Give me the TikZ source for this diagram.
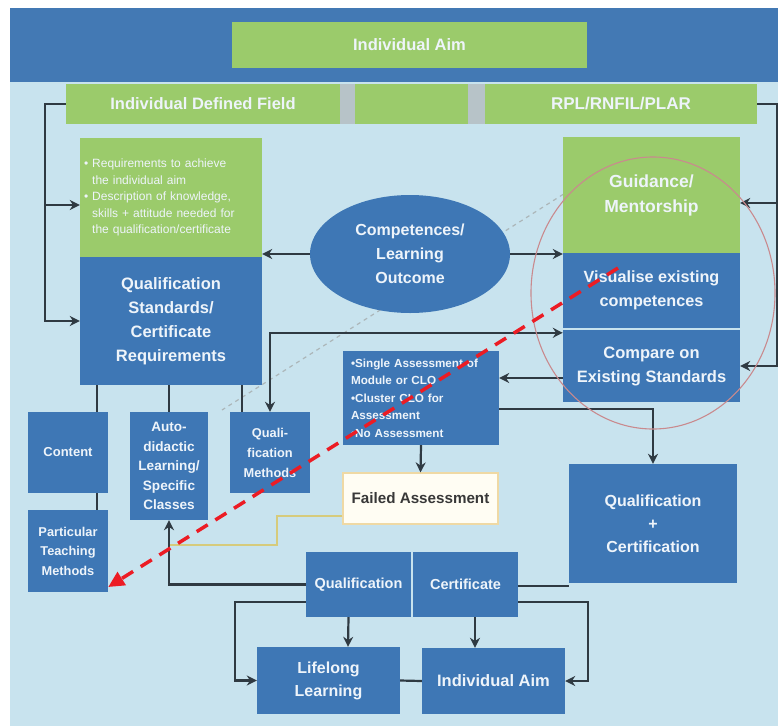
\documentclass[tikz,border=0pt]{standalone}
\usepackage{fontspec}
\setmainfont{Liberation Sans}
\usetikzlibrary{arrows.meta,shapes.geometric}

\definecolor{bgblue}{HTML}{C8E3EE}
\definecolor{band}{HTML}{4379B4}
\definecolor{boxblue}{HTML}{3E77B5}
\definecolor{leaf}{HTML}{9BCB6B}
\definecolor{sepgray}{HTML}{B7C3C8}
\definecolor{wire}{HTML}{2F3A42}
\definecolor{oldgold}{HTML}{D6CB7C}
\definecolor{circlered}{HTML}{C98A8E}
\definecolor{dashred}{HTML}{EC1C24}
\definecolor{txtwhite}{HTML}{EEF4FA}
\definecolor{failfill}{HTML}{FFFDF3}
\definecolor{failedge}{HTML}{EFD9A4}

\begin{document}
\begin{tikzpicture}[x=1pt,y=-1pt,
  wh/.style 2 args={minimum width=#1pt, minimum height=#2pt},
  bluebox/.style={rectangle, fill=boxblue, text=txtwhite, align=center, inner sep=1pt},
  greenbox/.style={rectangle, fill=leaf, text=txtwhite, align=center, inner sep=1pt},
  fs/.style 2 args={font=\fontsize{#1}{#2}\selectfont\bfseries},
  conn/.style={draw=wire, line width=2.2pt},
  arr/.style={conn, -{Stealth[length=10pt,width=10pt]}},
  biarr/.style={conn, {Stealth[length=10pt,width=10pt]}-{Stealth[length=10pt,width=10pt]}},
]
\useasboundingbox (0,0) rectangle (778,726);

% backdrop
\fill[white] (0,0) rectangle (778,726);
\fill[bgblue] (10,8) rectangle (778,726);
\fill[band] (10,8) rectangle (778,82);

% header row
\node[greenbox, wh={355}{46}, fs={16.5}{19}] (topaim) at (409.5,45) {Individual Aim};
\fill[sepgray] (340,84) rectangle (355,124);
\fill[sepgray] (468,84) rectangle (485,124);
\node[greenbox, wh={274}{40}, fs={16.5}{19}] (field) at (203,104) {Individual Defined Field};
\node[greenbox, wh={113}{40}] (midfield) at (411.5,104) {};
\node[greenbox, wh={272}{40}, fs={17}{19}] (rpl) at (621,104) {RPL/RNFIL/PLAR};

% faint guide line behind the ellipse
\coordinate (guideend) at (222,410);
\draw[sepgray!80!gray, line width=1.2pt, dash pattern=on 4pt off 4pt] (570,190) -- (guideend);

% left column of standards
\node[greenbox, wh={182}{119}, text width=174pt, inner xsep=4pt, align=left,
      font=\fontsize{12}{16.5}\selectfont] (req) at (171,197.5)
  {• Requirements to achieve\\\hphantom{• }the individual aim\\• Description of knowledge,\\\hphantom{• }skills + attitude needed for\\\hphantom{• }the qualification/certificate};
\node[bluebox, wh={182}{128}, fs={16.5}{24}] (qs) at (171,321)
  {Qualification\\Standards/\\Certificate\\Requirements};

% centre ellipse
\node[ellipse, fill=boxblue, text=txtwhite, align=center, inner sep=0pt, wh={200}{118}, fs={16}{24}] (ell) at (410,254)
  {Competences/\\Learning\\Outcome};

% right column
\node[greenbox, wh={177}{116}, fs={17.5}{25}] (guid) at (651.5,195) {Guidance/\\Mentorship};
\node[bluebox, wh={177}{75}, fs={16.2}{24}] (vis) at (651.5,290.5) {Visualise existing\\competences};
\node[bluebox, wh={177}{72}, fs={16.5}{24}] (comp) at (651.5,366) {Compare on\\Existing Standards};

% assessment options
\node[bluebox, wh={156}{94}, text width=140pt, inner xsep=8pt, align=left, fs={11.7}{17.5}] (assess) at (421,398)
  {•Single Assessment of\\Module or CLO\\•Cluster CLO for\\Assessment\\•No Assessment};
\node[rectangle, fill=failfill, draw=failedge, line width=1.2pt, wh={155}{51}, inner sep=1pt,
      text=black!78, fs={15.2}{17}] (failed) at (420.5,498.5) {Failed Assessment};
\node[bluebox, wh={168}{119}, fs={16}{23}] (qc) at (653,523.5) {Qualification\\+\\Certification};

% lower left boxes
\node[bluebox, wh={80}{81}, fs={13}{19}] (content) at (68,452.5) {Content};
\node[bluebox, wh={80}{82}, fs={12.8}{19.5}] (ptm) at (68,551) {Particular\\Teaching\\Methods};
\node[bluebox, wh={78}{108}, fs={13.6}{19.5}] (auto) at (169,466) {Auto-\\didactic\\Learning/\\Specific\\Classes};
\node[bluebox, wh={80}{81}, fs={12.8}{20}] (qm) at (270,452.5) {Quali-\\fication\\Methods};

% outcome boxes
\node[bluebox, wh={105}{65}, fs={14.5}{17}] (qual) at (358.5,584.5) {Qualification};
\node[bluebox, wh={105}{65}, fs={14.5}{17}] (cert) at (465.5,584.5) {Certificate};
\node[bluebox, wh={143}{67}, fs={16}{23}] (lll) at (328.5,680.5) {Lifelong\\Learning};
\node[bluebox, wh={143}{66}, fs={16.5}{23}] (iaim) at (493.5,681) {Individual Aim};

% brackets from the header row
\draw[arr] (field.west) -| ([xshift=-35pt]qs.west) -- (qs.west);
\draw[arr] ([xshift=-35pt]qs.west |- 0,205) -- (req.west |- 0,205);
\draw[arr] (rpl.east) -| ([xshift=37pt]comp.east) -- (comp.east);
\draw[arr] ([xshift=37pt]guid.east |- 0,203) -- (guid.east |- 0,203);

% ellipse links
\draw[arr] (ell.west) -- (ell.west -| req.east);
\draw[arr] (ell.east) -- (ell.east -| guid.west);

% standards to lower boxes
\draw[conn] ([xshift=29pt]content.north) -- ([xshift=29pt]content.north |- qs.south);
\draw[conn] ([xshift=29pt]content.south) -- ([xshift=29pt]ptm.north);
\draw[conn] (auto.north) -- (auto.north |- qs.south);
\draw[conn] ([xshift=-28pt]qm.north) -- ([xshift=-28pt]qm.north |- qs.south);
\draw[biarr] (qm.north) |- ([yshift=-3pt]comp.north west);

% assessment flow
\draw[arr] ([yshift=-12pt]comp.west) -- ([yshift=-12pt]comp.west -| assess.east);
\draw[arr] ([yshift=-11pt]assess.east) -| (qc.north);
\draw[arr] (assess.south) -- (failed.north);
\coordinate (goldknee) at (277,545);
\draw[oldgold, line width=2pt] ([yshift=-17pt]failed.west) -| (goldknee) -- (goldknee -| auto.south);

% outcome links
\draw[arr] (qual.west) -| (auto.south);
\draw[conn] ([yshift=-1.5pt]cert.east) -- ([yshift=-1.5pt]cert.east -| qc.west);
\draw[arr] ([xshift=-10pt]qual.south) -- ([xshift=19.5pt]lll.north);
\draw[arr] ([xshift=9.5pt]cert.south) -- ([xshift=-18.5pt]iaim.north);
\draw[conn] (lll.east) -- (iaim.west);
\draw[arr] ([yshift=-17.5pt]qual.west) -| ([xshift=-22pt]lll.west) -- (lll.west);
\draw[arr] ([yshift=-17.5pt]cert.east) -| ([xshift=23pt]iaim.east) -- (iaim.east);

% highlight ring and pointer
\draw[circlered, line width=1.1pt] (653,293) ellipse [x radius=122pt, y radius=136pt];
\coordinate (redstart) at (618,268);
\draw[dashred, line width=3.5pt, dash pattern=on 13pt off 9pt,
      -{Triangle[length=16pt,width=15pt]}] (redstart) -- ([yshift=-36pt]ptm.east);
\end{tikzpicture}
\end{document}
